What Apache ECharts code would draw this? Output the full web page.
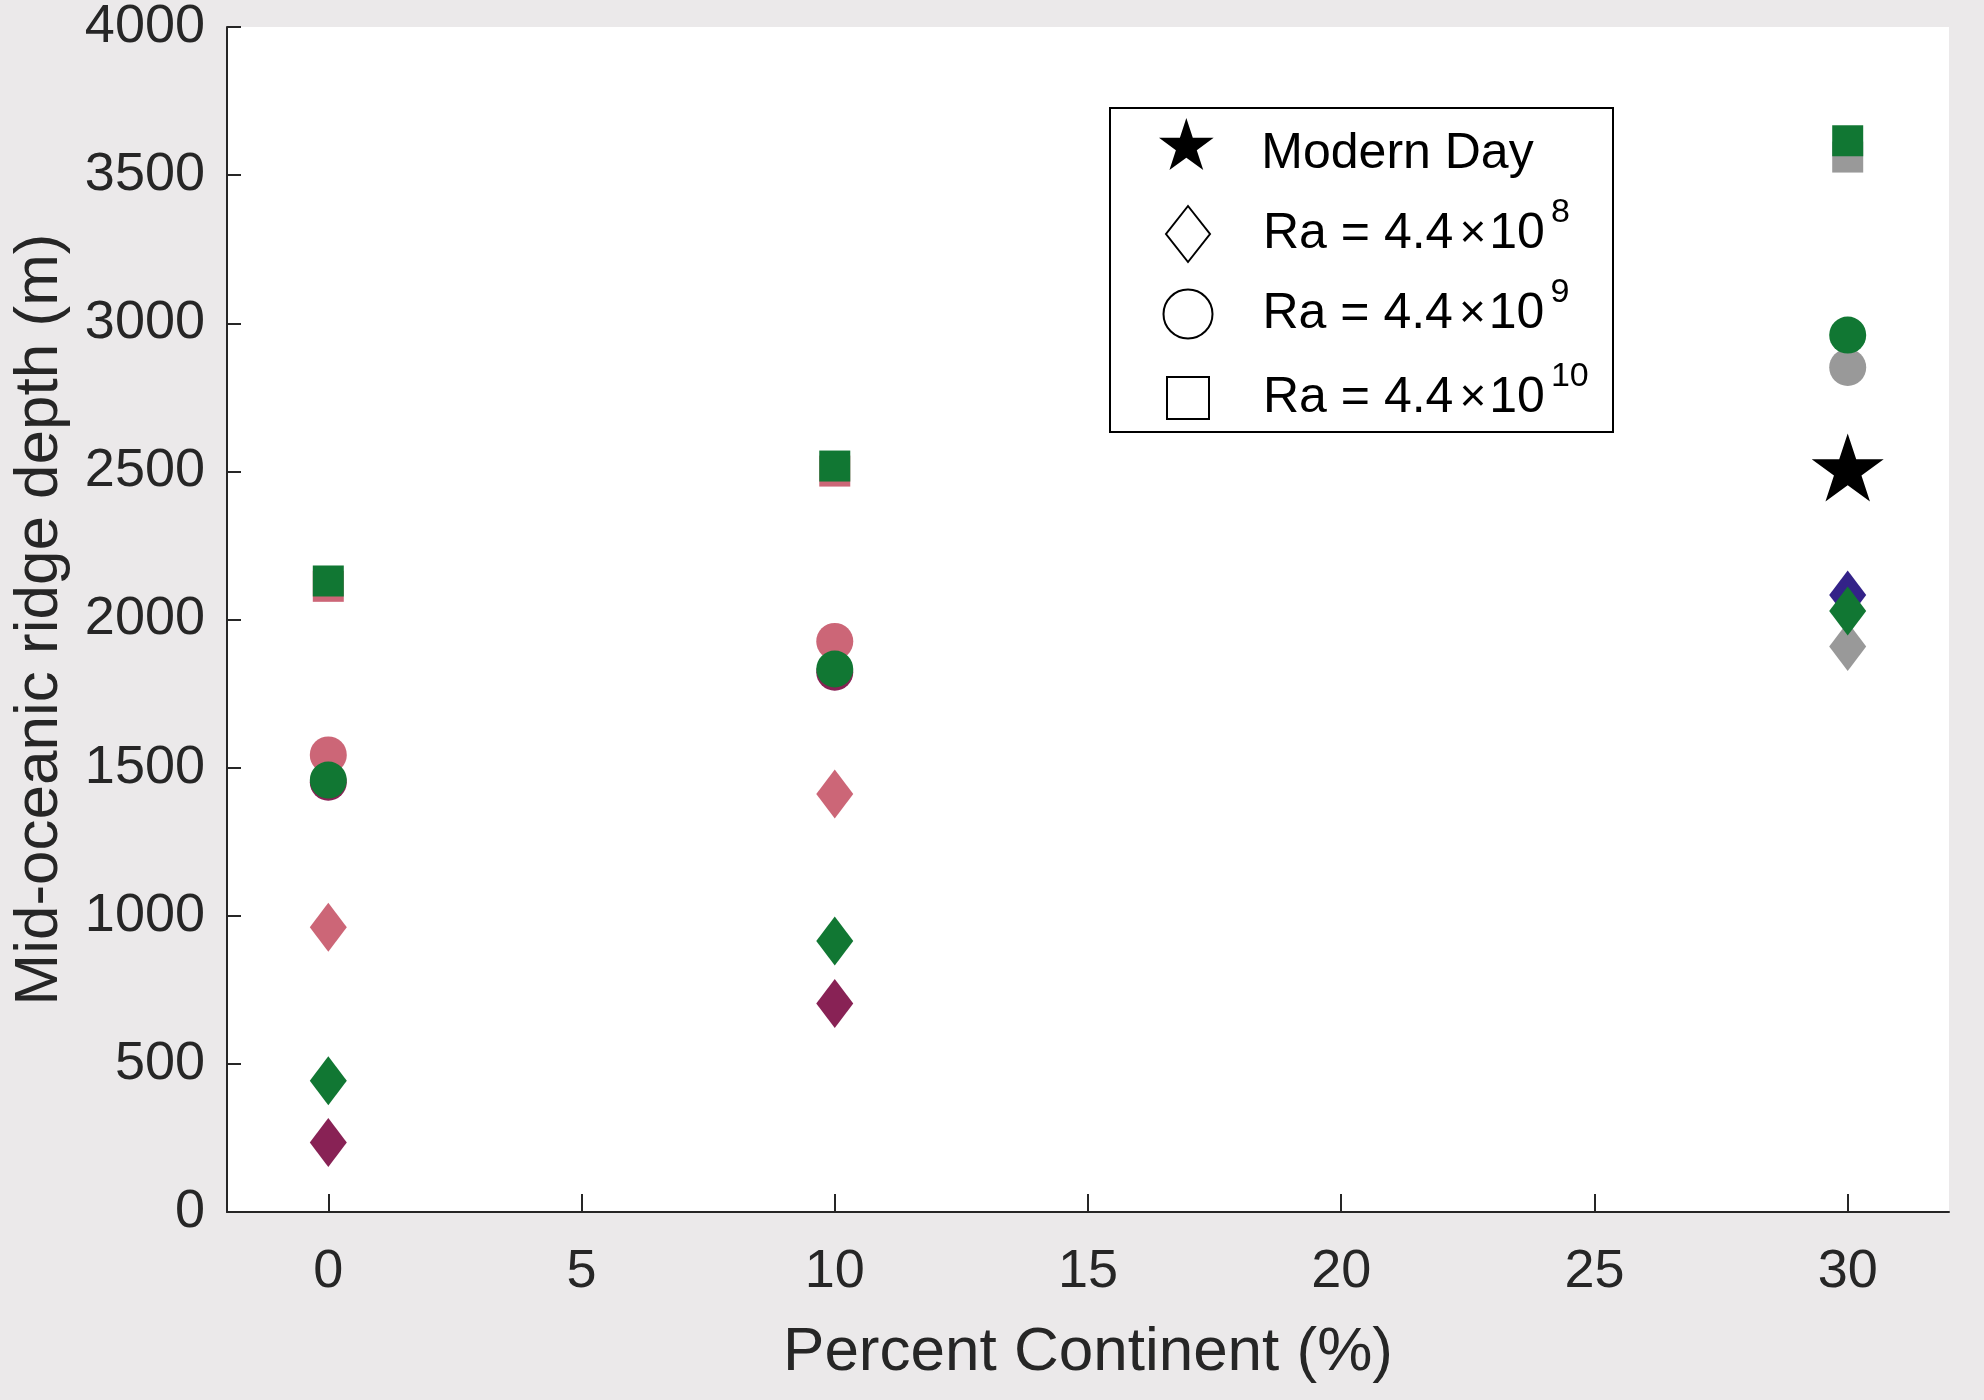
<!DOCTYPE html>
<html>
<head>
<meta charset="utf-8">
<script src="https://cdn.jsdelivr.net/npm/echarts@6/dist/echarts.min.js"></script>
<style>
html,body{margin:0;padding:0;background:#ebe9ea;}
#container{width:1984px;height:1400px;}
</style>
</head>
<body>
<div id="container"></div>
<script>
// x ticks (percent continent)
var xTicks = [0, 5, 10, 15, 20, 25, 30];

// depths (m), [percent, depth]
var roseDiamond  = [[0, 961],  [10, 1411]];
var roseCircle   = [[0, 1543], [10, 1926]];
var roseSquare   = [[0, 2112], [10, 2501]];
var wineDiamond  = [[0, 235],  [10, 704]];
var wineCircle   = [[0, 1451], [10, 1822]];
var greyDiamond  = [[30, 1909]];
var greyCircle   = [[30, 2851]];
var greySquare   = [[30, 3561]];
var navyDiamond  = [[30, 2083]];
var greenDiamond = [[0, 443],  [10, 915],  [30, 2029]];
var greenCircle  = [[0, 1458], [10, 1833], [30, 2960]];
var greenSquare  = [[0, 2130], [10, 2518], [30, 3616]];
var modernDay    = [[30, 2500]];

var FONT = '"Liberation Sans", Arial, Helvetica, sans-serif';
var AXIS = '#262626';
var STAR = 'path://M100,0L122.45,69.1L195.1,69.1L136.33,111.8L158.78,180.9L100,138.2L41.22,180.9L63.67,111.8L4.9,69.1L77.55,69.1Z';

var DIAMOND_SIZE = [37, 49];
var CIRCLE_SIZE = 37;
var SQUARE_SIZE = 31;

function pts(name, data, symbol, size, color) {
    return {
        name: name,
        type: 'scatter',
        data: data,
        symbol: symbol,
        symbolSize: size,
        itemStyle: {color: color, opacity: 1},
        emphasis: {disabled: true},
        silent: true
    };
}

function keyItem(name, symbol) {
    return {
        name: name,
        type: 'scatter',
        data: [],
        symbol: symbol,
        itemStyle: {color: '#fff', borderColor: '#000', borderWidth: 2, opacity: 1}
    };
}

// one legend block per key row so each icon keeps its own size
function legendEntry(name, icon, w, h, top, pad, padTop, text, fill) {
    return {
        data: [{name: name, icon: icon}],
        left: 1187 - w / 2,
        top: top,
        padding: 0,
        itemWidth: w,
        itemHeight: h,
        selectedMode: false,
        itemStyle: fill ? {color: '#000', borderWidth: 0, opacity: 1}
                        : {color: '#fff', borderColor: '#000', borderWidth: 2, opacity: 1},
        formatter: function () { return text; },
        textStyle: {
            color: '#000',
            fontFamily: FONT,
            rich: {
                n: {fontSize: 50, lineHeight: 76, fontFamily: FONT, color: '#000', padding: [padTop, 0, 0, pad]},
                x: {fontSize: 46, lineHeight: 76, fontFamily: FONT, color: '#000', padding: [0, 3, 0, 6]},
                m: {fontSize: 50, lineHeight: 76, fontFamily: FONT, color: '#000'},
                s: {fontSize: 34, lineHeight: 34, fontFamily: FONT, color: '#000',
                    verticalAlign: 'bottom', padding: [0, 0, 42, 6]}
            }
        }
    };
}

var dom = document.getElementById('container');
var myChart = echarts.init(dom, null, {renderer: 'canvas'});

var option = {
    backgroundColor: '#ebe9ea',
    animation: false,
    grid: {
        left: 227, right: 35, top: 27, bottom: 188,
        containLabel: false,
        outerBoundsMode: 'none',
        show: true, backgroundColor: '#fff', borderWidth: 0
    },
    xAxis: {
        type: 'value',
        min: -2, max: 32,
        name: 'Percent Continent (%)',
        nameLocation: 'middle',
        nameGap: 110,
        nameTextStyle: {fontSize: 62, fontFamily: FONT, color: AXIS},
        axisLine: {show: true, onZero: false, lineStyle: {color: AXIS, width: 2}},
        axisTick: {show: true, inside: true, length: 18, customValues: xTicks,
                   lineStyle: {color: AXIS, width: 2}},
        axisLabel: {customValues: xTicks, fontSize: 54, fontFamily: FONT, color: AXIS, margin: 33},
        splitLine: {show: false}
    },
    yAxis: {
        type: 'value',
        min: 0, max: 4000, interval: 500,
        name: 'Mid-oceanic ridge depth (m)',
        nameLocation: 'middle',
        nameGap: 156,
        nameTextStyle: {fontSize: 62, fontFamily: FONT, color: AXIS},
        axisLine: {show: true, onZero: false, lineStyle: {color: AXIS, width: 2}},
        axisTick: {show: true, inside: true, length: 14, lineStyle: {color: AXIS, width: 2}},
        axisLabel: {fontSize: 54, fontFamily: FONT, color: AXIS, margin: 22,
                    formatter: function (v) { return String(v); }},
        splitLine: {show: false}
    },
    legend: [
        legendEntry('Modern Day', STAR, 56, 52, 109, 42, 20, '{n|Modern Day}', true),
        legendEntry('Ra8', 'diamond', 44, 56, 196, 48, 0, '{n|Ra = 4.4}{x|×}{m|10}{s|8}', false),
        legendEntry('Ra9', 'circle', 49, 49, 276, 45, 0, '{n|Ra = 4.4}{x|×}{m|10}{s|9}', false),
        legendEntry('Ra10', 'rect', 42, 42, 360, 49, 0, '{n|Ra = 4.4}{x|×}{m|10}{s|10}', false)
    ],
    graphic: [{
        type: 'rect',
        z: 3,
        shape: {x: 1110, y: 108, width: 503, height: 324},
        style: {fill: '#fff', stroke: '#000', lineWidth: 2}
    }],
    series: [
        pts('rose diamond', roseDiamond, 'diamond', DIAMOND_SIZE, '#CC6677'),
        pts('rose circle', roseCircle, 'circle', CIRCLE_SIZE, '#CC6677'),
        pts('rose square', roseSquare, 'rect', SQUARE_SIZE, '#CC6677'),
        pts('wine diamond', wineDiamond, 'diamond', DIAMOND_SIZE, '#882255'),
        pts('wine circle', wineCircle, 'circle', CIRCLE_SIZE, '#882255'),
        pts('grey diamond', greyDiamond, 'diamond', DIAMOND_SIZE, '#999999'),
        pts('grey circle', greyCircle, 'circle', CIRCLE_SIZE, '#999999'),
        pts('grey square', greySquare, 'rect', SQUARE_SIZE, '#999999'),
        pts('navy diamond', navyDiamond, 'diamond', DIAMOND_SIZE, '#332288'),
        pts('green diamond', greenDiamond, 'diamond', DIAMOND_SIZE, '#117733'),
        pts('green circle', greenCircle, 'circle', CIRCLE_SIZE, '#117733'),
        pts('green square', greenSquare, 'rect', SQUARE_SIZE, '#117733'),
        {
            name: 'Modern Day',
            type: 'scatter',
            data: modernDay,
            symbol: STAR,
            symbolSize: [72, 68],
            symbolOffset: [0, -4],
            itemStyle: {color: '#000', opacity: 1},
            emphasis: {disabled: true},
            silent: true
        },
        keyItem('Ra8', 'diamond'),
        keyItem('Ra9', 'circle'),
        keyItem('Ra10', 'rect')
    ]
};

myChart.setOption(option);
</script>
</body>
</html>
